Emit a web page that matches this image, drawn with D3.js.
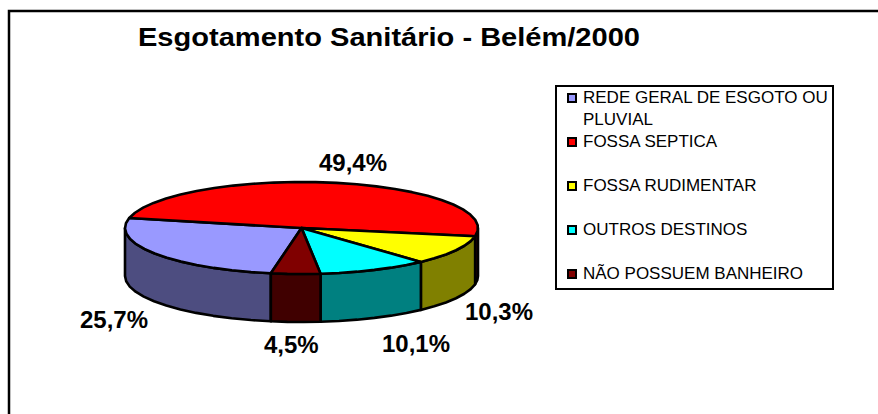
<!DOCTYPE html>
<html>
<head>
	<meta charset="utf-8">
	<title>Esgotamento Sanitário - Belém/2000</title>
	<style>
		html, body { margin: 0; padding: 0; background: #fff; }
		svg { display: block; }
		text { font-family: "Liberation Sans", Arial, sans-serif; fill: #000; }
		.title { font-size: 26px; font-weight: bold; }
		.pct { font-size: 24px; font-weight: bold; }
		.leg { font-size: 17px; }
	</style>
</head>
<body>
<div id="chart"></div>
<script src="https://d3js.org/d3.v7.min.js"></script>
<script type="text/javascript">
	var titleText = "Esgotamento Sanitário - Belém/2000";
	var categories = ["REDE GERAL DE ESGOTO OU PLUVIAL", "FOSSA SEPTICA", "FOSSA RUDIMENTAR", "OUTROS DESTINOS", "NÃO POSSUEM BANHEIRO"];
	var values = [25.7, 49.4, 10.3, 10.1, 4.5];
	var topColors = ["#9999ff", "#ff0000", "#ffff00", "#00ffff", "#800000"];
	var wallColors = ["#4d4d80", "#800000", "#808000", "#008080", "#400000"];

	var w = 878,
		h = 414;

	var svg = d3.select("#chart")
				.append("svg")
				.attr("width", w)
				.attr("height", h);

	// frame only has top and left sides in the picture
	svg.append("path")
		.attr("d", "M9,414V11H878")
		.attr("fill", "none")
		.attr("stroke", "#000")
		.attr("stroke-width", 2.5);

	svg.append("text")
		.attr("class", "title")
		.attr("x", 138)
		.attr("y", 46)
		.attr("textLength", 502)
		.attr("lengthAdjust", "spacingAndGlyphs")
		.text(titleText);

	// tilted pie: d3.pie for the angles, two scales for the ellipse
	var depth = 48;
	var px = d3.scaleLinear().domain([-1, 1]).range([125, 478]);
	var py = d3.scaleLinear().domain([-1, 1]).range([274, 182]);
	var rad = Math.PI / 180;

	var pie = d3.pie().sort(null)
		.startAngle(190 * rad)
		.endAngle((190 + 360) * rad);
	var slices = pie(values);

	var line = d3.line();

	function rim(a0, a1) {
		var n = Math.max(1, Math.ceil((a1 - a0) / (7 * rad)));
		return d3.range(n + 1).map(function(i) {
			var a = a0 + (a1 - a0) * i / n;
			return [px(Math.sin(a)), py(Math.cos(a))];
		});
	}

	// walls, only the part of each slice that faces us (90 to 270 deg)
	slices.forEach(function(d, i) {
		[0, 360].forEach(function(turn) {
			var a0 = Math.max(d.startAngle, (90 + turn) * rad);
			var a1 = Math.min(d.endAngle, (270 + turn) * rad);
			if (a1 <= a0) return;
			var front = rim(a0, a1);
			var back = front.slice().reverse().map(function(p) { return [p[0], p[1] + depth]; });
			svg.append("path")
				.attr("d", line(front.concat(back)) + "Z")
				.attr("fill", wallColors[i])
				.attr("stroke", "#000")
				.attr("stroke-width", 2.6)
				.attr("stroke-linejoin", "round");
		});
	});

	// top faces
	var bars = svg.selectAll(".slice")
		.data(slices)
		.enter()
		.append("path")
		.attr("class", "slice")
		.attr("d", function(d) {
			return line([[px(0), py(0)]].concat(rim(d.startAngle, d.endAngle))) + "Z";
		})
		.attr("fill", function(d, i) { return topColors[i]; })
		.attr("stroke", "#000")
		.attr("stroke-width", 2.6)
		.attr("stroke-linejoin", "round");

	// percent labels
	var labelX = [80, 319, 465, 382, 264];
	var labelY = [328, 171, 320, 352, 353];
	svg.selectAll(".pct")
		.data(values)
		.enter()
		.append("text")
		.attr("class", "pct")
		.attr("x", function(d, i) { return labelX[i]; })
		.attr("y", function(d, i) { return labelY[i]; })
		.text(function(d) { return d3.format(".1f")(d).replace(".", ",") + "%"; });

	// legend
	svg.append("rect")
		.attr("x", 556)
		.attr("y", 86)
		.attr("width", 277)
		.attr("height", 203)
		.attr("fill", "#fff")
		.attr("stroke", "#000")
		.attr("stroke-width", 2);

	var legendRow = d3.scaleLinear().domain([0, 4]).range([103, 279]);

	categories.forEach(function(c, i) {
		var y = legendRow(i);
		svg.append("rect")
			.attr("x", 568)
			.attr("y", y - 9)
			.attr("width", 8)
			.attr("height", 8)
			.attr("fill", topColors[i])
			.attr("stroke", "#000")
			.attr("stroke-width", 2);
		var lines = i == 0 ? ["REDE GERAL DE ESGOTO OU", "PLUVIAL"] : [c];
		lines.forEach(function(t, j) {
			svg.append("text")
				.attr("class", "leg")
				.attr("x", 583)
				.attr("y", y + j * 22)
				.text(t);
		});
	});
</script>
</body>
</html>
